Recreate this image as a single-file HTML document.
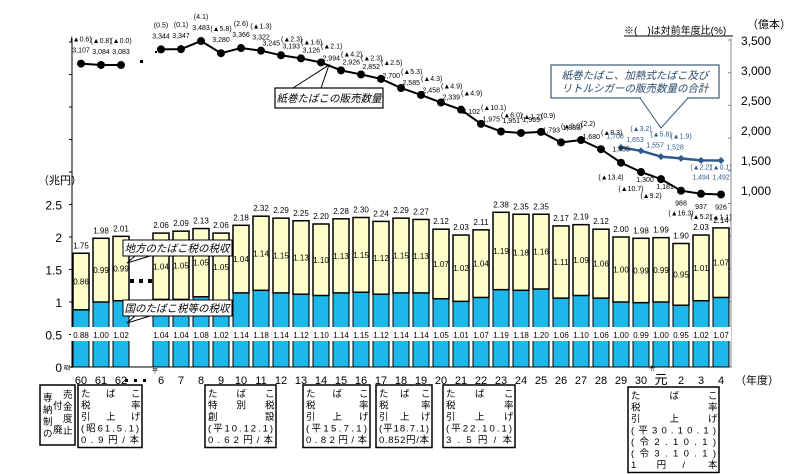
<!DOCTYPE html>
<html><head><meta charset="utf-8">
<style>
html,body{margin:0;padding:0;background:#fff;}
svg{display:block;font-family:"Liberation Sans","Noto Sans CJK JP",sans-serif;}
.box{fill:#fff;stroke:#000;stroke-width:1.5;}
.bt{font-size:9.5px;fill:#000;}
</style></head>
<body>
<svg id="chart" width="800" height="474" viewBox="0 0 800 474">
<g id="axes"></g>
<g id="bars"></g>
<g id="lines"></g>
<g id="labels"></g>

<text x="38" y="184" font-size="11">（兆円）</text>
<text x="747" y="28" font-size="11">（億本）</text>
<text x="624" y="34" font-size="10">※(　)は対前年度比(%)</text>
<line x1="624" y1="36" x2="733" y2="36" stroke="#000" stroke-width="1"/>

<g>
<polyline points="293,88 329,65 321,88" fill="none" stroke="#000" stroke-width="1"/>
<rect x="275" y="88" width="108" height="20" fill="#fff" stroke="#000" stroke-width="1.2"/>
<text x="329" y="102" font-size="10.5" font-style="italic" text-anchor="middle">紙巻たばこの販売数量</text>
</g>
<g>
<polyline points="640,98 661,128 688,98" fill="#fff" stroke="#3a5a7a" stroke-width="1"/>
<rect x="551" y="65" width="168" height="33" fill="#fff" stroke="#3a5a7a" stroke-width="1.2"/>
<line x1="641" y1="98" x2="687" y2="98" stroke="#fff" stroke-width="2"/>
<text x="635" y="79" font-size="10.5" font-style="italic" fill="#2a4a6a" text-anchor="middle">紙巻たばこ、加熱式たばこ及び</text>
<text x="635" y="92" font-size="10.5" font-style="italic" fill="#2a4a6a" text-anchor="middle">リトルシガーの販売数量の合計</text>
</g>
<g>
<polyline points="135,256 127,263 150,256" fill="#fff" stroke="#000" stroke-width="1"/>
<rect x="123" y="240" width="109" height="16" fill="#fff" stroke="#000" stroke-width="1"/>
<text x="177" y="252" font-size="10.5" font-style="italic" text-anchor="middle">地方のたばこ税の税収</text>
</g>
<g>
<polyline points="135,316 127,323 150,316" fill="#fff" stroke="#000" stroke-width="1"/>
<rect x="123" y="300" width="109" height="16" fill="#fff" stroke="#000" stroke-width="1"/>
<text x="177" y="312" font-size="10.5" font-style="italic" text-anchor="middle">国のたばこ税等の税収</text>
</g>

<g>
<rect class="box" x="40" y="385" width="35" height="60"/>
<text class="bt" x="43" y="401">専</text><text class="bt" x="43" y="413">納</text><text class="bt" x="43" y="425">制</text><text class="bt" x="43" y="437">の</text>
<text class="bt" x="53" y="409">付</text><text class="bt" x="53" y="433">廃</text>
<text class="bt" x="63" y="398">売</text><text class="bt" x="63" y="410">金</text><text class="bt" x="63" y="422">度</text><text class="bt" x="63" y="434">止</text>
</g>
<g id="boxes"></g>

<text x="735" y="384" font-size="11">（年度）</text>
<text x="64" y="370" font-size="6">昭</text>
<text x="152" y="373" font-size="6">平</text>
<text x="649" y="371" font-size="6">令</text>
</svg>
<script>
const categories = ["60","61","62","","6","7","8","9","10","11","12","13","14","15","16","17","18","19","20","21","22","23","24","25","26","27","28","29","30","元","2","3","4"];
const totalTax = [1.75,1.98,2.01,null,2.06,2.09,2.13,2.06,2.18,2.32,2.29,2.25,2.20,2.28,2.30,2.24,2.29,2.27,2.12,2.03,2.11,2.38,2.35,2.35,2.17,2.19,2.12,2.00,1.98,1.99,1.90,2.03,2.14];
const nationalTax = [0.88,1.00,1.02,null,1.04,1.04,1.08,1.02,1.14,1.18,1.14,1.12,1.10,1.14,1.15,1.12,1.14,1.14,1.05,1.01,1.07,1.19,1.18,1.20,1.06,1.10,1.06,1.00,0.99,1.00,0.95,1.02,1.07];
const localTax = [0.86,0.99,0.99,null,1.04,1.05,1.05,1.05,1.04,1.14,1.15,1.13,1.10,1.13,1.15,1.12,1.15,1.13,1.07,1.02,1.04,1.19,1.18,1.16,1.11,1.09,1.06,1.00,0.99,0.99,0.95,1.01,1.07];
const cigVolume = [3107,3084,3083,null,3344,3347,3483,3280,3366,3322,3245,3193,3126,2994,2926,2852,2700,2585,2458,2339,2102,1975,1951,1969,1793,1833,1680,1455,1300,1181,988,937,926];
const cigYoY = ["▲0.6","▲0.8","▲0.0","","0.5","0.1","4.1","▲5.8","2.6","▲1.3","▲2.3","▲1.6","▲2.1","▲4.2","▲2.3","▲2.5","▲5.3","▲4.3","▲4.9","▲4.9","▲10.1","▲6.0","▲1.2","0.9","▲9.0","2.2","▲8.3","▲13.4","▲10.7","▲9.2","▲16.3","▲5.2","▲1.1"];
const totalVolume = [null,null,null,null,null,null,null,null,null,null,null,null,null,null,null,null,null,null,null,null,null,null,null,null,null,null,null,1708,1653,1557,1528,1494,1492];
const totalYoY = ["","","","","","","","","","","","","","","","","","","","","","","","","","","","","▲3.2","▲5.8","▲1.9","▲2.2","▲0.1"];
const leftTicks = ["0","0.5","1","1.5","2","2.5"];
const rightTicks = ["1,000","1,500","2,000","2,500","3,000","3,500"];
const rightTickVals = [1000,1500,2000,2500,3000,3500];

const NS="http://www.w3.org/2000/svg";
function mk(tag,attrs,parent,txt){const e=document.createElementNS(NS,tag);for(const k in attrs)e.setAttribute(k,attrs[k]);if(txt!==undefined)e.textContent=txt;parent.appendChild(e);return e;}
const xS = i => 81 + i*20;
const yL = v => 367 - v*65;
const yR = v => 40 + (3500 - v)*0.06;
const fmt = v => v.toLocaleString("en-US");
const gA=document.getElementById("axes"),gB=document.getElementById("bars"),gL=document.getElementById("lines"),gT=document.getElementById("labels"),gX=document.getElementById("boxes");
const FS=7;

let a=mk("line",{x1:72,y1:38,x2:72,y2:368,stroke:"#000","stroke-width":1},gA);


a=mk("line",{x1:731,y1:38,x2:731,y2:368,stroke:"#888","stroke-width":1},gA);


a=mk("line",{x1:72,y1:367,x2:731,y2:367,stroke:"#000","stroke-width":1},gA);


for(let k=0;k<=10;k++){const y=367-k*32.5;mk("line",{x1:69,y1:y,x2:72,y2:y,stroke:"#000"},gA);}
leftTicks.forEach((t,k)=>{const e=mk("text",{x:62,y:yL(parseFloat(t))+5,"font-size":12,"text-anchor":"end"},gA,t);

});
for(let k=0;k<=10;k++){const y=40+k*32.7;mk("line",{x1:728,y1:y,x2:731,y2:y,stroke:"#888"},gA);}
rightTicks.forEach((t,k)=>{const e=mk("text",{x:741,y:yR(rightTickVals[k])+5,"font-size":12},gA,t);

});
categories.forEach((c,i)=>{if(!c)return;const e=mk("text",{x:xS(i),y:384,"font-size":i==29?13:11,"text-anchor":"middle"},gA,c);

});
[130,139,148].forEach(x=>{mk("rect",{x:x,y:279,width:4,height:4,fill:"#000"},gA);mk("rect",{x:x-5,y:379,width:3,height:3,fill:"#000"},gA);});
mk("rect",{x:140,y:60,width:3,height:3,fill:"#000"},gA);
mk("rect",{x:155,y:51,width:2,height:2,fill:"#000"},gA);

categories.forEach((c,i)=>{
 if(totalTax[i]==null)return;
 const x=xS(i)-8,w=16;
 const yb=yL(0),yn=yL(nationalTax[i]),yt=yL(totalTax[i]);
 const n=mk("rect",{x:x,y:yn,width:w,height:yb-yn,fill:"#1cb8ec",stroke:"#000","stroke-width":1},gB);
 
 
 const l=mk("rect",{x:x,y:yt,width:w,height:yn-yt,fill:"#ffffcc",stroke:"#000","stroke-width":1.5},gB);
 
 
 mk("rect",{x:x-2,y:327,width:w+4,height:14,fill:"#fff"},gB);
 let t=mk("text",{x:xS(i),y:338,"font-size":8,"text-anchor":"middle"},gT,nationalTax[i].toFixed(2));
 
 
 t=mk("text",{x:xS(i),y:(yn+yt)/2+3,"font-size":8,"text-anchor":"middle"},gT,localTax[i].toFixed(2));
 
 
 t=mk("text",{x:xS(i),y:yt-5,"font-size":8,"text-anchor":"middle"},gT,totalTax[i].toFixed(2));
 
 
});

function series(vals,color,r,name,sw){
 let segs=[],cur=[];
 vals.forEach((v,i)=>{if(v==null){if(cur.length)segs.push(cur);cur=[];}else cur.push(xS(i)+","+yR(v));});
 if(cur.length)segs.push(cur);
 segs.forEach(s=>{const p=mk("polyline",{points:s.join(" "),fill:"none",stroke:color,"stroke-width":sw},gL);
 
 });
 vals.forEach((v,i)=>{if(v==null)return;
 const m=name=="total-volume"?mk("polygon",{points:`${xS(i)},${yR(v)-r} ${xS(i)+r},${yR(v)} ${xS(i)},${yR(v)+r} ${xS(i)-r},${yR(v)}`,fill:color},gL):mk("circle",{cx:xS(i),cy:yR(v),r:r,fill:color},gL);
 
 });
}
series(totalVolume,"#2f5a8a",3.5,"total-volume",2.5);
series(cigVolume,"#000",4,"cig-volume",2);

cigVolume.forEach((v,i)=>{if(v==null)return;
 const x=xS(i),y=yR(v);let vx,vy,px,py,va="middle",pa="middle";
 const p="("+cigYoY[i]+")";
 if(i<=9){vx=x;vy=y-11;px=x;py=y-22;}
 else if(i<=26){vx=x-1;vy=y-10;va="end";px=x;py=y-14;pa="start";}
 else if(i==27){vx=x;vy=y-11;px=x-10;py=y+17;}
 else if(i<=29){vx=x+4;vy=y+10;px=x-10;py=y+19;}
 else {vx=x;vy=y+15;px=x;py=y+25;}
 let t=mk("text",{x:vx,y:vy,"font-size":FS,"text-anchor":va},gT,fmt(v));
 
 
 t=mk("text",{x:px,y:py,"font-size":FS,"text-anchor":pa},gT,p);
 
 
});
totalVolume.forEach((v,i)=>{if(v==null)return;
 const x=xS(i),y=yR(v);let vx=x-6,vy=y-9,py=y-20;
 if(i>=31){vx=x;vy=y+19;py=y+9;}
 let t=mk("text",{x:vx,y:vy,"font-size":FS,"text-anchor":"middle",fill:"#2f5a8a"},gT,fmt(v));
 
 
 if(totalYoY[i]){t=mk("text",{x:x,y:py,"font-size":FS,"text-anchor":"middle",fill:"#2f5a8a"},gT,"("+totalYoY[i]+")");
 
 }
});

function box(x,y,w,lines,name){
 const g=mk("g",{},gX);
 
 
 mk("rect",{class:"box",x:x,y:y,width:w,height:lines.length*11.5+5},g);
 lines.forEach((ln,k)=>{
  const cy=y+12+k*11.5;
  if(Array.isArray(ln)){const n=ln.length;ln.forEach((ch,j)=>{const cx=x+3+(w-14)*(n==1?0:j/(n-1));mk("text",{class:"bt",x:cx,y:cy},g,ch);});}
  else mk("text",{class:"bt",x:x+3,y:cy,textLength:w-6,lengthAdjust:"spacing"},g,ln);
 });
}
box(78,385,64,[["た","ば","こ"],["税","率"],["引","上","げ"],"(昭61.5.1)","0.9円/本"],"box-tax-raise-s61");
box(205,385,71,[["た","ば","こ"],["特","別","税"],["創","設"],"(平10.12.1)","0.62円/本"],"box-special-tax-h10");
box(303,385,67,[["た","ば","こ"],["税","率"],["引","上","げ"],"(平15.7.1)","0.82円/本"],"box-tax-raise-h15");
box(376,385,56,[["た","ば","こ"],["税","率"],["引","上","げ"],"(平18.7.1)","0.852円/本"],"box-tax-raise-h18");
box(443,385,72,[["た","ば","こ"],["税","率"],["引","上","げ"],"(平22.10.1)","3.5円/本"],"box-tax-raise-h22");
box(628,387,91,[["た","ば","こ"],["税","率"],["引","上","げ"],"(平30.10.1)","(令2.10.1)","(令3.10.1)",["1","円","/","本"]],"box-tax-raise-h30-r3");
</script>
</body></html>
